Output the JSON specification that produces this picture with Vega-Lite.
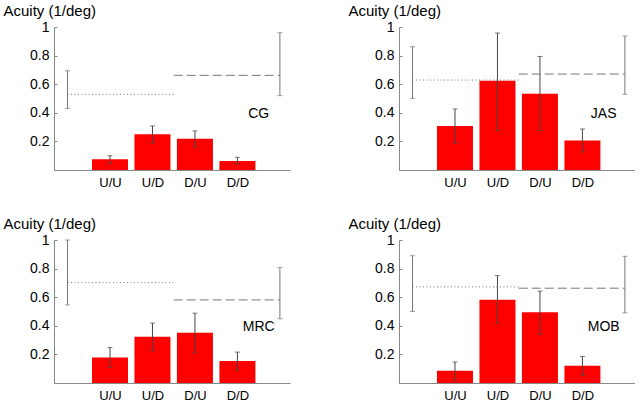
{
  "$schema": "https://vega.github.io/schema/vega-lite/v6.json",
  "padding": {"left": 3, "top": 3, "right": 0, "bottom": 0},
  "background": "white",
  "bounds": "flush",
  "data": {"values": [
    {"subject": "CG", "type": "bar", "cond": "U/U", "pos": 1, "mean": 0.075, "lo": 0.047, "hi": 0.100},
    {"subject": "CG", "type": "bar", "cond": "U/D", "pos": 2, "mean": 0.250, "lo": 0.187, "hi": 0.308},
    {"subject": "CG", "type": "bar", "cond": "D/U", "pos": 3, "mean": 0.219, "lo": 0.161, "hi": 0.273},
    {"subject": "CG", "type": "bar", "cond": "D/D", "pos": 4, "mean": 0.063, "lo": 0.042, "hi": 0.089},
    {"subject": "CG", "type": "dotted", "pos": 0, "x0": 0, "x1": 2.5, "mean": 0.529, "lo": 0.431, "hi": 0.694},
    {"subject": "CG", "type": "dashed", "pos": 5, "x0": 2.5, "x1": 5, "mean": 0.662, "lo": 0.520, "hi": 0.960},
    {"subject": "JAS", "type": "bar", "cond": "U/U", "pos": 1, "mean": 0.308, "lo": 0.186, "hi": 0.427},
    {"subject": "JAS", "type": "bar", "cond": "U/D", "pos": 2, "mean": 0.624, "lo": 0.277, "hi": 0.958},
    {"subject": "JAS", "type": "bar", "cond": "D/U", "pos": 3, "mean": 0.534, "lo": 0.277, "hi": 0.794},
    {"subject": "JAS", "type": "bar", "cond": "D/D", "pos": 4, "mean": 0.207, "lo": 0.126, "hi": 0.287},
    {"subject": "JAS", "type": "dotted", "pos": 0, "x0": 0, "x1": 2.5, "mean": 0.629, "lo": 0.501, "hi": 0.862},
    {"subject": "JAS", "type": "dashed", "pos": 5, "x0": 2.5, "x1": 5, "mean": 0.671, "lo": 0.529, "hi": 0.937},
    {"subject": "MRC", "type": "bar", "cond": "U/U", "pos": 1, "mean": 0.179, "lo": 0.109, "hi": 0.248},
    {"subject": "MRC", "type": "bar", "cond": "U/D", "pos": 2, "mean": 0.323, "lo": 0.225, "hi": 0.419},
    {"subject": "MRC", "type": "bar", "cond": "D/U", "pos": 3, "mean": 0.351, "lo": 0.211, "hi": 0.488},
    {"subject": "MRC", "type": "bar", "cond": "D/D", "pos": 4, "mean": 0.153, "lo": 0.091, "hi": 0.216},
    {"subject": "MRC", "type": "dotted", "pos": 0, "x0": 0, "x1": 2.5, "mean": 0.702, "lo": 0.546, "hi": 1.000},
    {"subject": "MRC", "type": "dashed", "pos": 5, "x0": 2.5, "x1": 5, "mean": 0.581, "lo": 0.449, "hi": 0.807},
    {"subject": "MOB", "type": "bar", "cond": "U/U", "pos": 1, "mean": 0.086, "lo": 0.016, "hi": 0.147},
    {"subject": "MOB", "type": "bar", "cond": "U/D", "pos": 2, "mean": 0.583, "lo": 0.419, "hi": 0.751},
    {"subject": "MOB", "type": "bar", "cond": "D/U", "pos": 3, "mean": 0.495, "lo": 0.342, "hi": 0.642},
    {"subject": "MOB", "type": "bar", "cond": "D/D", "pos": 4, "mean": 0.121, "lo": 0.053, "hi": 0.186},
    {"subject": "MOB", "type": "dotted", "pos": 0, "x0": 0, "x1": 2.5, "mean": 0.672, "lo": 0.500, "hi": 0.890},
    {"subject": "MOB", "type": "dashed", "pos": 5, "x0": 2.5, "x1": 5, "mean": 0.663, "lo": 0.491, "hi": 0.886}
  ]},
  "columns": 2,
  "spacing": {"row": 70, "column": 109},
  "concat": [
    {
      "transform": [{"filter": "datum.subject == 'CG'"}],
      "width": 236, "height": 143,
      "layer": [
        {"transform": [{"filter": "datum.type == 'bar'"}], "mark": {"type": "bar", "color": "#ff0000", "size": 36},
         "encoding": {"x": {"field": "pos", "type": "quantitative", "title": null, "scale": {"domain": [-0.2, 5.12], "nice": false, "zero": false}, "axis": {"values": [1, 2, 3, 4]}},
                      "y": {"field": "mean", "type": "quantitative", "title": "Acuity (1/deg)", "scale": {"domain": [0, 1], "nice": false}, "axis": {"tickCount": 5, "format": "~g", "title": "Acuity (1/deg)"}}}},
        {"transform": [{"filter": "datum.type == 'bar'"}], "mark": {"type": "errorbar", "ticks": {"size": 5, "color": "#444", "thickness": 1}, "rule": {"color": "#444", "strokeWidth": 1}},
         "encoding": {"x": {"field": "pos", "type": "quantitative", "title": null}, "y": {"field": "lo", "type": "quantitative", "title": "Acuity (1/deg)"}, "y2": {"field": "hi"}}},
        {"transform": [{"filter": "datum.type == 'dotted'"}], "mark": {"type": "rule", "color": "#777", "strokeWidth": 1, "strokeDash": [1, 2.5]},
         "encoding": {"x": {"field": "x0", "type": "quantitative", "title": null}, "x2": {"field": "x1"}, "y": {"field": "mean", "type": "quantitative", "title": "Acuity (1/deg)"}}},
        {"transform": [{"filter": "datum.type == 'dashed'"}], "mark": {"type": "rule", "color": "#777", "strokeWidth": 1, "strokeDash": [9, 4]},
         "encoding": {"x": {"field": "x0", "type": "quantitative", "title": null}, "x2": {"field": "x1"}, "y": {"field": "mean", "type": "quantitative", "title": "Acuity (1/deg)"}}},
        {"transform": [{"filter": "datum.type != 'bar'"}], "mark": {"type": "errorbar", "ticks": {"size": 5, "color": "#777", "thickness": 1}, "rule": {"color": "#777", "strokeWidth": 1}},
         "encoding": {"x": {"field": "pos", "type": "quantitative", "title": null}, "y": {"field": "lo", "type": "quantitative", "title": "Acuity (1/deg)"}, "y2": {"field": "hi"}}},
        {"transform": [{"filter": "datum.type == 'dashed'"}], "mark": {"type": "text", "fontSize": 14, "color": "#000", "align": "center", "baseline": "middle"},
         "encoding": {"x": {"datum": 4.5, "type": "quantitative"}, "y": {"datum": 0.39, "type": "quantitative", "title": "Acuity (1/deg)"}, "text": {"field": "subject"}}}
      ]
    },
    {
      "transform": [{"filter": "datum.subject == 'JAS'"}],
      "width": 236, "height": 143,
      "layer": [
        {"transform": [{"filter": "datum.type == 'bar'"}], "mark": {"type": "bar", "color": "#ff0000", "size": 36},
         "encoding": {"x": {"field": "pos", "type": "quantitative", "title": null, "scale": {"domain": [-0.2, 5.12], "nice": false, "zero": false}, "axis": {"values": [1, 2, 3, 4]}},
                      "y": {"field": "mean", "type": "quantitative", "title": "Acuity (1/deg)", "scale": {"domain": [0, 1], "nice": false}, "axis": {"tickCount": 5, "format": "~g", "title": "Acuity (1/deg)"}}}},
        {"transform": [{"filter": "datum.type == 'bar'"}], "mark": {"type": "errorbar", "ticks": {"size": 5, "color": "#444", "thickness": 1}, "rule": {"color": "#444", "strokeWidth": 1}},
         "encoding": {"x": {"field": "pos", "type": "quantitative", "title": null}, "y": {"field": "lo", "type": "quantitative", "title": "Acuity (1/deg)"}, "y2": {"field": "hi"}}},
        {"transform": [{"filter": "datum.type == 'dotted'"}], "mark": {"type": "rule", "color": "#777", "strokeWidth": 1, "strokeDash": [1, 2.5]},
         "encoding": {"x": {"field": "x0", "type": "quantitative", "title": null}, "x2": {"field": "x1"}, "y": {"field": "mean", "type": "quantitative", "title": "Acuity (1/deg)"}}},
        {"transform": [{"filter": "datum.type == 'dashed'"}], "mark": {"type": "rule", "color": "#777", "strokeWidth": 1, "strokeDash": [9, 4]},
         "encoding": {"x": {"field": "x0", "type": "quantitative", "title": null}, "x2": {"field": "x1"}, "y": {"field": "mean", "type": "quantitative", "title": "Acuity (1/deg)"}}},
        {"transform": [{"filter": "datum.type != 'bar'"}], "mark": {"type": "errorbar", "ticks": {"size": 5, "color": "#777", "thickness": 1}, "rule": {"color": "#777", "strokeWidth": 1}},
         "encoding": {"x": {"field": "pos", "type": "quantitative", "title": null}, "y": {"field": "lo", "type": "quantitative", "title": "Acuity (1/deg)"}, "y2": {"field": "hi"}}},
        {"transform": [{"filter": "datum.type == 'dashed'"}], "mark": {"type": "text", "fontSize": 14, "color": "#000", "align": "center", "baseline": "middle"},
         "encoding": {"x": {"datum": 4.5, "type": "quantitative"}, "y": {"datum": 0.39, "type": "quantitative", "title": "Acuity (1/deg)"}, "text": {"field": "subject"}}}
      ]
    },
    {
      "transform": [{"filter": "datum.subject == 'MRC'"}],
      "width": 236, "height": 143,
      "layer": [
        {"transform": [{"filter": "datum.type == 'bar'"}], "mark": {"type": "bar", "color": "#ff0000", "size": 36},
         "encoding": {"x": {"field": "pos", "type": "quantitative", "title": null, "scale": {"domain": [-0.2, 5.12], "nice": false, "zero": false}, "axis": {"values": [1, 2, 3, 4]}},
                      "y": {"field": "mean", "type": "quantitative", "title": "Acuity (1/deg)", "scale": {"domain": [0, 1], "nice": false}, "axis": {"tickCount": 5, "format": "~g", "title": "Acuity (1/deg)"}}}},
        {"transform": [{"filter": "datum.type == 'bar'"}], "mark": {"type": "errorbar", "ticks": {"size": 5, "color": "#444", "thickness": 1}, "rule": {"color": "#444", "strokeWidth": 1}},
         "encoding": {"x": {"field": "pos", "type": "quantitative", "title": null}, "y": {"field": "lo", "type": "quantitative", "title": "Acuity (1/deg)"}, "y2": {"field": "hi"}}},
        {"transform": [{"filter": "datum.type == 'dotted'"}], "mark": {"type": "rule", "color": "#777", "strokeWidth": 1, "strokeDash": [1, 2.5]},
         "encoding": {"x": {"field": "x0", "type": "quantitative", "title": null}, "x2": {"field": "x1"}, "y": {"field": "mean", "type": "quantitative", "title": "Acuity (1/deg)"}}},
        {"transform": [{"filter": "datum.type == 'dashed'"}], "mark": {"type": "rule", "color": "#777", "strokeWidth": 1, "strokeDash": [9, 4]},
         "encoding": {"x": {"field": "x0", "type": "quantitative", "title": null}, "x2": {"field": "x1"}, "y": {"field": "mean", "type": "quantitative", "title": "Acuity (1/deg)"}}},
        {"transform": [{"filter": "datum.type != 'bar'"}], "mark": {"type": "errorbar", "ticks": {"size": 5, "color": "#777", "thickness": 1}, "rule": {"color": "#777", "strokeWidth": 1}},
         "encoding": {"x": {"field": "pos", "type": "quantitative", "title": null}, "y": {"field": "lo", "type": "quantitative", "title": "Acuity (1/deg)"}, "y2": {"field": "hi"}}},
        {"transform": [{"filter": "datum.type == 'dashed'"}], "mark": {"type": "text", "fontSize": 14, "color": "#000", "align": "center", "baseline": "middle"},
         "encoding": {"x": {"datum": 4.5, "type": "quantitative"}, "y": {"datum": 0.39, "type": "quantitative", "title": "Acuity (1/deg)"}, "text": {"field": "subject"}}}
      ]
    },
    {
      "transform": [{"filter": "datum.subject == 'MOB'"}],
      "width": 236, "height": 143,
      "layer": [
        {"transform": [{"filter": "datum.type == 'bar'"}], "mark": {"type": "bar", "color": "#ff0000", "size": 36},
         "encoding": {"x": {"field": "pos", "type": "quantitative", "title": null, "scale": {"domain": [-0.2, 5.12], "nice": false, "zero": false}, "axis": {"values": [1, 2, 3, 4]}},
                      "y": {"field": "mean", "type": "quantitative", "title": "Acuity (1/deg)", "scale": {"domain": [0, 1], "nice": false}, "axis": {"tickCount": 5, "format": "~g", "title": "Acuity (1/deg)"}}}},
        {"transform": [{"filter": "datum.type == 'bar'"}], "mark": {"type": "errorbar", "ticks": {"size": 5, "color": "#444", "thickness": 1}, "rule": {"color": "#444", "strokeWidth": 1}},
         "encoding": {"x": {"field": "pos", "type": "quantitative", "title": null}, "y": {"field": "lo", "type": "quantitative", "title": "Acuity (1/deg)"}, "y2": {"field": "hi"}}},
        {"transform": [{"filter": "datum.type == 'dotted'"}], "mark": {"type": "rule", "color": "#777", "strokeWidth": 1, "strokeDash": [1, 2.5]},
         "encoding": {"x": {"field": "x0", "type": "quantitative", "title": null}, "x2": {"field": "x1"}, "y": {"field": "mean", "type": "quantitative", "title": "Acuity (1/deg)"}}},
        {"transform": [{"filter": "datum.type == 'dashed'"}], "mark": {"type": "rule", "color": "#777", "strokeWidth": 1, "strokeDash": [9, 4]},
         "encoding": {"x": {"field": "x0", "type": "quantitative", "title": null}, "x2": {"field": "x1"}, "y": {"field": "mean", "type": "quantitative", "title": "Acuity (1/deg)"}}},
        {"transform": [{"filter": "datum.type != 'bar'"}], "mark": {"type": "errorbar", "ticks": {"size": 5, "color": "#777", "thickness": 1}, "rule": {"color": "#777", "strokeWidth": 1}},
         "encoding": {"x": {"field": "pos", "type": "quantitative", "title": null}, "y": {"field": "lo", "type": "quantitative", "title": "Acuity (1/deg)"}, "y2": {"field": "hi"}}},
        {"transform": [{"filter": "datum.type == 'dashed'"}], "mark": {"type": "text", "fontSize": 14, "color": "#000", "align": "center", "baseline": "middle"},
         "encoding": {"x": {"datum": 4.5, "type": "quantitative"}, "y": {"datum": 0.39, "type": "quantitative", "title": "Acuity (1/deg)"}, "text": {"field": "subject"}}}
      ]
    }
  ],
  "config": {
    "font": "Liberation Sans",
    "view": {"stroke": null},
    "axis": {"grid": false, "labelColor": "#000", "domainColor": "#888", "labelFont": "Liberation Sans"},
    "axisX": {"labelExpr": "datum.value == 1 ? 'U/U' : datum.value == 2 ? 'U/D' : datum.value == 3 ? 'D/U' : 'D/D'",
              "ticks": false, "labelFontSize": 13, "labelPadding": 6},
    "axisY": {"labelExpr": "datum.value == 0 ? '' : format(datum.value, '~g')", "labelOverlap": false,
              "titleAngle": 0, "titleAlign": "left", "titleBaseline": "alphabetic", "titleX": -51, "titleY": -12,
              "titleFontSize": 15, "titleFontWeight": "normal", "titleColor": "#000", "titleFont": "Liberation Sans",
              "labelFontSize": 14, "labelPadding": 8, "tickSize": -3, "tickColor": "#888"}
  }
}
